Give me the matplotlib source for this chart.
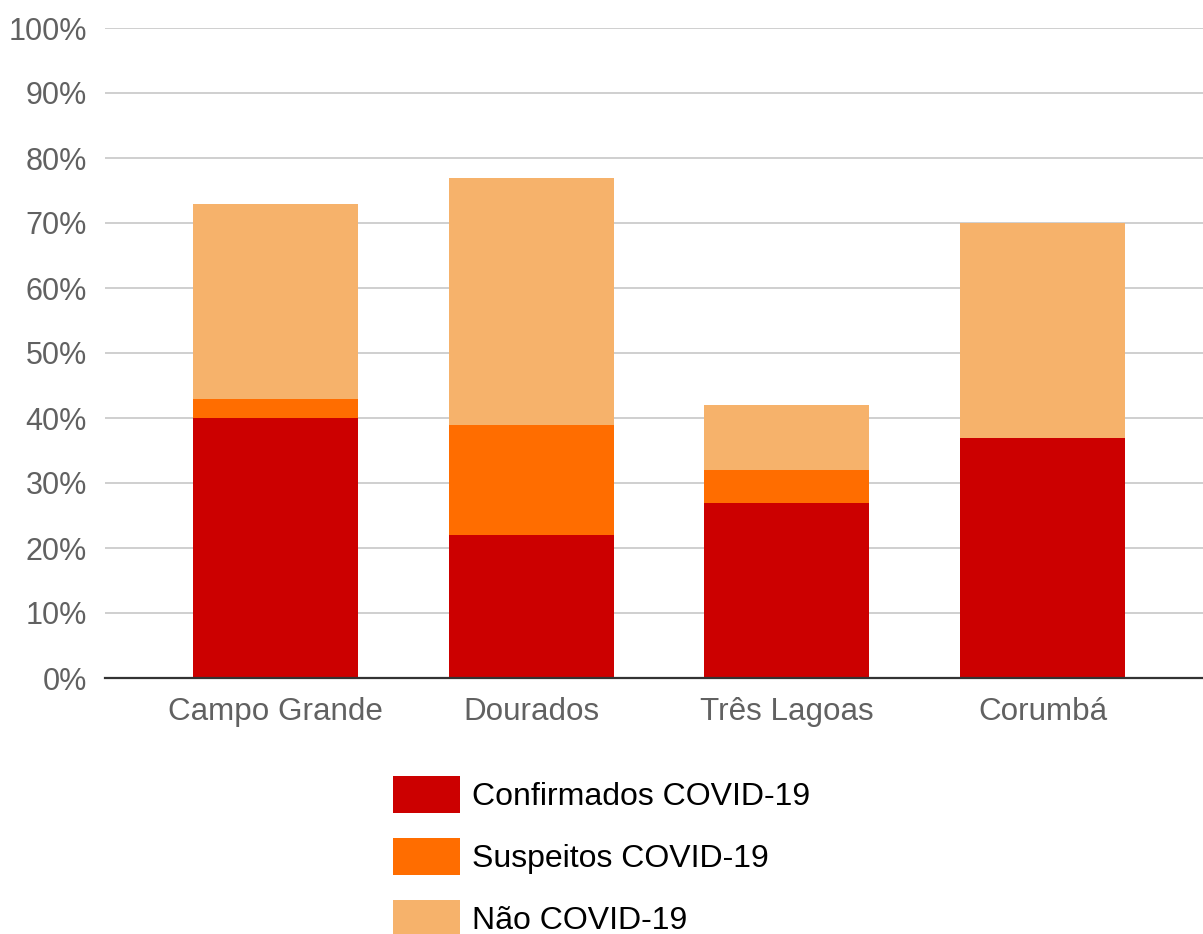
import matplotlib
matplotlib.use("Agg")
import matplotlib.pyplot as plt
import numpy as np

plt.rcParams['font.family'] = ['Liberation Sans', 'DejaVu Sans']

categories = ["Campo Grande", "Dourados", "Três Lagoas", "Corumbá"]
confirmados = [40, 22, 27, 37]
suspeitos = [3, 17, 5, 0]
nao_covid = [30, 38, 10, 33]
series_labels = ["Confirmados COVID-19", "Suspeitos COVID-19", "Não COVID-19"]
colors = ["#cc0000", "#ff6d00", "#f6b26b"]
yticks = [0, 10, 20, 30, 40, 50, 60, 70, 80, 90, 100]
ytick_labels = [f"{v}%" for v in yticks]

W, H = 1203, 934
fig = plt.figure(figsize=(W / 100, H / 100), dpi=100)
ax = fig.add_axes([105 / W, 1 - 678 / H, (1203 - 105) / W, 650 / H])

x = np.arange(len(categories))
bw = 0.646
b1 = ax.bar(x, confirmados, width=bw, color=colors[0], label=series_labels[0], zorder=3)
bottom2 = np.array(confirmados)
b2 = ax.bar(x, suspeitos, width=bw, bottom=bottom2, color=colors[1], label=series_labels[1], zorder=3)
bottom3 = bottom2 + np.array(suspeitos)
b3 = ax.bar(x, nao_covid, width=bw, bottom=bottom3, color=colors[2], label=series_labels[2], zorder=3)

ax.set_xlim(-0.667, 3.628)
ax.set_ylim(0, 100)
ax.set_yticks(yticks)
ax.set_yticklabels(ytick_labels)
ax.set_xticks(x)
ax.set_xticklabels(categories)
ax.tick_params(axis='y', length=0, pad=13, labelsize=22, labelcolor='#616161')
ax.tick_params(axis='x', length=0, pad=14, labelsize=22.6, labelcolor='#616161')
ax.grid(axis='y', color='#cccccc', linewidth=1.3, zorder=0)
for s in ['left', 'right', 'top']:
    ax.spines[s].set_visible(False)
ax.spines['bottom'].set_color('#333333')
ax.spines['bottom'].set_linewidth(1.6)
ax.spines['bottom'].set_zorder(4)

fs = 23
em = fs * 100 / 72
hh = (37 / em - 0.245) / 0.65
fig.legend(handles=[b1, b2, b3], labels=series_labels, loc='upper left',
           bbox_to_anchor=(393 / W, 1 - 776 / H), frameon=False, fontsize=fs,
           handlelength=67 / em, handleheight=hh, handletextpad=12 / em,
           labelspacing=(62 - 37) / em, borderpad=0, borderaxespad=0)

fig.savefig("out.png", dpi=100)
